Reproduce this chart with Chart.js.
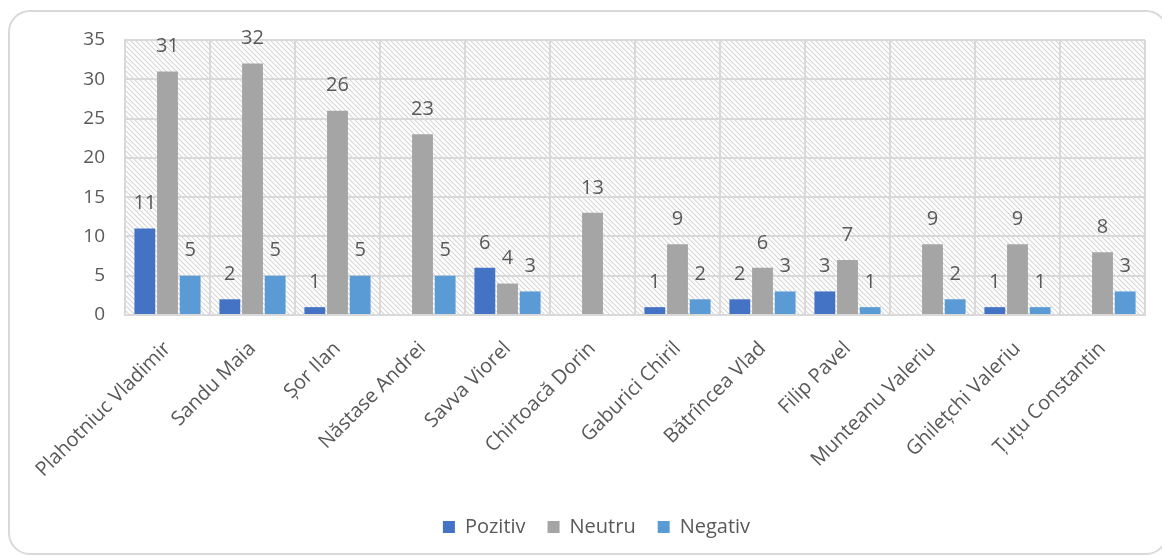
<!DOCTYPE html>
<html>
<head>
<meta charset="utf-8">
<script src="https://cdn.jsdelivr.net/npm/chart.js@4/dist/chart.umd.min.js"></script>
<style>
  html, body { margin: 0; padding: 0; background: #fff; }
  #wrap { position: relative; width: 1162px; height: 557px; }
  #frame {
    position: absolute; left: 8px; top: 10px; width: 1160px; height: 545px;
    border: 2px solid #d9d9d9; border-radius: 22px; box-sizing: border-box;
  }
  #chart { position: absolute; left: 0; top: 0; }
</style>
</head>
<body>
<div id="wrap">
  <div id="frame"></div>
  <canvas id="chart" width="1162" height="557"></canvas>
</div>
<script>
// date
var candidati = [
  "Plahotniuc Vladimir", "Sandu Maia", "Șor Ilan", "Năstase Andrei",
  "Savva Viorel", "Chirtoacă Dorin", "Gaburici Chiril", "Bătrîncea Vlad",
  "Filip Pavel", "Munteanu Valeriu", "Ghilețchi Valeriu", "Țuțu Constantin"
];
var pozitiv = [11, 2, 1, null, 6, null, 1, 2, 3, null, 1, null];
var neutru  = [31, 32, 26, 23, 4, 13, 9, 6, 7, 9, 9, 8];
var negativ = [5, 5, 5, 5, 3, null, 2, 3, 1, 2, 1, 3];
var yTicks  = [0, 5, 10, 15, 20, 25, 30, 35];

var textColor = '#595959';
var gridColor = '#d9d9d9';
var fontFam = "'Open Sans', 'Liberation Sans', sans-serif";

function hatchPattern(ctx) {
  var c = document.createElement('canvas');
  c.width = 5; c.height = 5;
  var p = c.getContext('2d');
  p.fillStyle = '#ffffff';
  p.fillRect(0, 0, 5, 5);
  p.strokeStyle = '#d6d6d6';
  p.lineWidth = 1.1;
  p.beginPath();
  p.moveTo(-1, -1); p.lineTo(6, 6);
  p.moveTo(-1, 4); p.lineTo(1, 6);
  p.moveTo(4, -1); p.lineTo(6, 1);
  p.stroke();
  return ctx.createPattern(c, 'repeat');
}

// fundal hasurat in zona graficului
var fundalPlugin = {
  id: 'fundal',
  beforeDraw: function (chart) {
    var a = chart.chartArea;
    var ctx = chart.ctx;
    ctx.save();
    ctx.fillStyle = hatchPattern(ctx);
    ctx.fillRect(a.left, a.top, a.right - a.left, a.bottom - a.top);
    ctx.restore();
  }
};

// etichete cu valori deasupra barelor
var valoriPlugin = {
  id: 'valori',
  afterDatasetsDraw: function (chart) {
    var ctx = chart.ctx;
    ctx.save();
    ctx.fillStyle = textColor;
    ctx.font = '20px ' + fontFam;
    ctx.textAlign = 'center';
    ctx.textBaseline = 'middle';
    chart.data.datasets.forEach(function (ds, i) {
      var meta = chart.getDatasetMeta(i);
      meta.data.forEach(function (bar, j) {
        var v = ds.data[j];
        if (v === null || v === undefined) return;
        ctx.fillText(String(v), bar.x, bar.y - 25);
      });
    });
    ctx.restore();
  }
};

var ctx = document.getElementById('chart').getContext('2d');
var myChart = new Chart(ctx, {
  type: 'bar',
  data: {
    labels: candidati,
    datasets: [
      { label: 'Pozitiv', data: pozitiv, backgroundColor: '#4472c4' },
      { label: 'Neutru', data: neutru, backgroundColor: '#a5a5a5' },
      { label: 'Negativ', data: negativ, backgroundColor: '#5b9bd5' }
    ]
  },
  options: {
    responsive: false,
    animation: false,
    barPercentage: 0.92,
    categoryPercentage: 0.8,
    layout: { padding: { left: 48, top: 40, right: 17, bottom: 10 } },
    plugins: {
      tooltip: { enabled: false },
      legend: {
        position: 'bottom',
        labels: {
          color: textColor,
          font: { family: fontFam, size: 20 },
          boxWidth: 12,
          boxHeight: 12,
          padding: 22
        }
      }
    },
    scales: {
      x: {
        grid: { color: gridColor, lineWidth: 2, drawTicks: false },
        border: { color: gridColor, width: 2 },
        ticks: {
          color: textColor,
          font: { family: fontFam, size: 20 },
          minRotation: 45,
          maxRotation: 45,
          padding: 22
        },
        afterFit: function (scale) {
          var lg = scale.chart.legend ? scale.chart.legend.height : 40;
          scale.height = 557 - 315 - lg - 10;
        }
      },
      y: {
        min: 0,
        max: 35,
        grid: { color: gridColor, lineWidth: 2, drawTicks: false },
        border: { color: gridColor, width: 2 },
        afterBuildTicks: function (scale) {
          scale.ticks = yTicks.map(function (v) { return { value: v }; });
        },
        ticks: {
          color: textColor,
          font: { family: fontFam, size: 19 },
          padding: 20
        },
        afterFit: function (scale) {
          scale.width = 125 - 48;
        }
      }
    }
  },
  plugins: [fundalPlugin, valoriPlugin]
});
</script>
</body>
</html>
